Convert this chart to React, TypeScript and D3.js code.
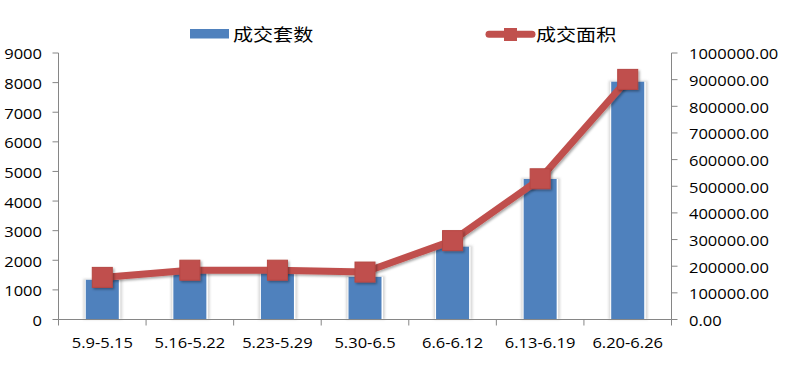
import React, { useEffect, useRef } from 'react';
import * as d3 from 'd3';

const categories = ['5.9-5.15', '5.16-5.22', '5.23-5.29', '5.30-6.5', '6.6-6.12', '6.13-6.19', '6.20-6.26'];
const dealCounts = [1340, 1600, 1580, 1440, 2460, 4745, 8030];
const dealAreas = [158000, 185000, 185000, 178000, 296000, 528000, 901000];
const leftTicks = [0, 1000, 2000, 3000, 4000, 5000, 6000, 7000, 8000, 9000];
const rightTicks = [0, 100000, 200000, 300000, 400000, 500000, 600000, 700000, 800000, 900000, 1000000];
const seriesNames = ['成交套数', '成交面积'];

const W = 787;
const H = 373;
const FONT = '"Open Sans", "Noto Sans CJK SC", sans-serif';
const SX = 1.18;
const BLUE = '#4F81BD';
const RED = '#C0504D';
const AXIS = '#868686';

export default function App() {
  const svgRef = useRef<SVGSVGElement>(null);

  useEffect(() => {
    if (!svgRef.current) return;
    const svg = d3.select(svgRef.current);
    svg.selectAll('*').remove();

    const margin = { top: 53, right: 115.5, bottom: 53.5, left: 58.5 };
    const x0 = margin.left;
    const x1 = W - margin.right;
    const y0 = H - margin.bottom;
    const y1 = margin.top;

    const defs = svg.append('defs');
    const f = defs.append('filter').attr('id', 'shadow').attr('x', '-30%').attr('y', '-30%').attr('width', '160%').attr('height', '160%');
    f.append('feDropShadow').attr('dx', 1.5).attr('dy', 1.5).attr('stdDeviation', 1.2).attr('flood-color', '#000').attr('flood-opacity', 0.35);
    const fb = defs.append('filter').attr('id', 'barshadow').attr('x', '-30%').attr('y', '-5%').attr('width', '160%').attr('height', '110%');
    fb.append('feGaussianBlur').attr('stdDeviation', 1);

    const x = d3.scaleBand<string>().domain(categories).range([x0, x1]);
    const yL = d3.scaleLinear().domain([0, 9000]).range([y0, y1]);
    const yR = d3.scaleLinear().domain([0, 1000000]).range([y0, y1]);
    const barW = x.bandwidth() * 0.377;

    const text = (g: d3.Selection<any, any, any, any>, tx: number, ty: number, s: string, anchor: string, size = 14) =>
      g.append('text')
        .attr('transform', `translate(${tx},${ty}) scale(${SX},1)`)
        .attr('text-anchor', anchor)
        .attr('dominant-baseline', 'central')
        .style('font-family', FONT)
        .style('font-size', `${size}px`)
        .style('fill', '#000')
        .text(s);

    // bars with soft shadow
    const bars = svg.append('g');
    categories.forEach((c, i) => {
      const cx = (x(c) || 0) + x.bandwidth() / 2;
      const top = yL(dealCounts[i]);
      bars.append('rect')
        .attr('x', cx - barW / 2 - 2.5)
        .attr('y', top - 1)
        .attr('width', barW + 6)
        .attr('height', y0 - top + 1)
        .attr('fill', '#c8c8c8')
        .attr('opacity', 0.7)
        .attr('filter', 'url(#barshadow)');
      bars.append('rect')
        .attr('x', cx - barW / 2 - 1)
        .attr('y', top)
        .attr('width', barW + 2.5)
        .attr('height', y0 - top)
        .attr('fill', '#fff');
      bars.append('rect')
        .attr('x', cx - barW / 2)
        .attr('y', top)
        .attr('width', barW)
        .attr('height', y0 - top)
        .attr('fill', BLUE);
    });

    // axes
    const ax = svg.append('g').attr('stroke', AXIS).attr('stroke-width', 1).attr('fill', 'none');
    ax.append('line').attr('x1', x0).attr('x2', x0).attr('y1', y1).attr('y2', y0);
    ax.append('line').attr('x1', x1).attr('x2', x1).attr('y1', y1).attr('y2', y0);
    ax.append('line').attr('x1', x0).attr('x2', x1).attr('y1', y0).attr('y2', y0);
    leftTicks.forEach(t => {
      ax.append('line').attr('x1', x0 - 6).attr('x2', x0).attr('y1', yL(t)).attr('y2', yL(t));
    });
    rightTicks.forEach(t => {
      ax.append('line').attr('x1', x1).attr('x2', x1 + 6).attr('y1', yR(t)).attr('y2', yR(t));
    });
    d3.range(categories.length + 1).forEach(i => {
      const tx = x0 + i * x.bandwidth();
      ax.append('line').attr('x1', tx).attr('x2', tx).attr('y1', y0).attr('y2', y0 + 6);
    });

    const labels = svg.append('g');
    leftTicks.forEach(t => text(labels, 42, yL(t) + 1, String(t), 'end'));
    rightTicks.forEach(t => text(labels, 689, yR(t) + 1, t.toFixed(2), 'start'));
    categories.forEach(c => text(labels, (x(c) || 0) + x.bandwidth() / 2, 343, c, 'middle'));

    // line series
    const pts = categories.map((c, i) => [(x(c) || 0) + x.bandwidth() / 2, yR(dealAreas[i])] as [number, number]);
    svg.append('path')
      .attr('d', d3.line()(pts) || '')
      .attr('fill', 'none')
      .attr('stroke', RED)
      .attr('stroke-width', 7)
      .attr('stroke-linejoin', 'round')
      .attr('filter', 'url(#shadow)');
    const ms = 20;
    svg.append('g').selectAll('rect').data(pts).enter().append('rect')
      .attr('x', d => d[0] - ms / 2)
      .attr('y', d => d[1] - ms / 2)
      .attr('width', ms)
      .attr('height', ms)
      .attr('fill', RED)
      .attr('stroke', '#B64743')
      .attr('stroke-width', 1)
      .attr('filter', 'url(#shadow)');

    // legend
    const lg = svg.append('g');
    lg.append('rect').attr('x', 190).attr('y', 29).attr('width', 39).attr('height', 9.5).attr('fill', BLUE);
    text(lg, 233, 34.5, seriesNames[0], 'start', 17);
    lg.append('line').attr('x1', 489).attr('x2', 532).attr('y1', 34.3).attr('y2', 34.3)
      .attr('stroke', RED).attr('stroke-width', 7).attr('stroke-linecap', 'round');
    lg.append('rect').attr('x', 504).attr('y', 28).attr('width', 13).attr('height', 13).attr('fill', RED);
    text(lg, 536, 34.5, seriesNames[1], 'start', 17);
  }, []);

  return (
    <div style={{ position: 'absolute', left: 0, top: 0, background: '#fff' }}>
      <svg ref={svgRef} width={W} height={H} style={{ display: 'block' }} />
    </div>
  );
}
